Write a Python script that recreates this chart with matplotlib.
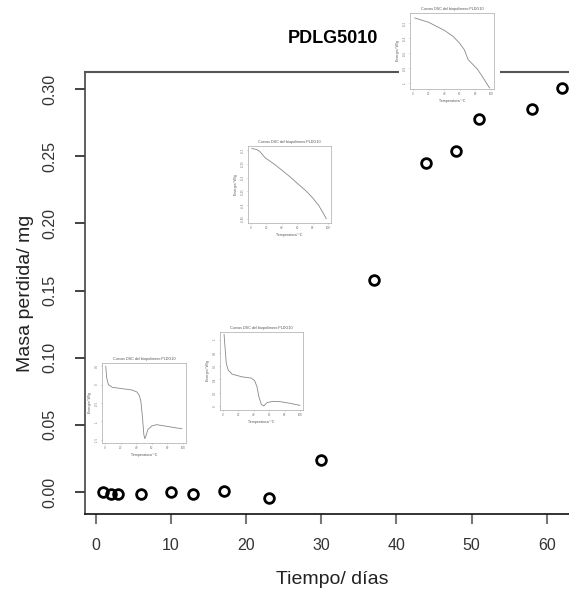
import numpy as np
import matplotlib.pyplot as plt

plt.rcParams['font.family'] = ['Liberation Sans', 'DejaVu Sans']

# mass loss of PDLG5010 over time
dias = [1, 2, 3, 6, 10, 13, 17, 23, 30, 37, 44, 48, 51, 58, 62]
masa = [0.0000, -0.0015, -0.0015, -0.0015, 0.0002, -0.0015, 0.0007, -0.0042,
        0.0240, 0.1580, 0.2450, 0.2536, 0.2777, 0.2853, 0.3005]

x_ticks = [0, 10, 20, 30, 40, 50, 60]
y_ticks = [0.00, 0.05, 0.10, 0.15, 0.20, 0.25, 0.30]

# DSC curves shown as small insets (temperature / heat flow)
dsc1_t = [2.1, 20.0, 40.8, 51.3, 59.6, 65.8, 70.8, 76.3, 82.5, 88.8, 98.3]
dsc1_e = [-0.133, -0.191, -0.302, -0.378, -0.467, -0.556, -0.689, -0.747, -0.813, -0.911, -1.067]
dsc1_yt = [-1.0, -0.8, -0.6, -0.4, -0.2]

dsc2_t = [0.9, 7.4, 11.7, 18.3, 29.1, 40.0, 50.9, 59.6, 70.4, 79.1, 87.8, 94.3, 97.8]
dsc2_e = [-0.194, -0.198, -0.206, -0.228, -0.249, -0.273, -0.298, -0.320, -0.346,
          -0.371, -0.401, -0.432, -0.450]
dsc2_yt = [-0.45, -0.40, -0.35, -0.30, -0.25, -0.20]

dsc3_t = [0.8, 2.1, 4.2, 9.3, 21.9, 34.6, 40.9, 43.9, 46.0, 48.1, 49.8, 51.1, 52.3,
          54.9, 59.9, 66.2, 76.8, 89.5, 98.7]
dsc3_e = [0.5, 0.18, 0.0, -0.073, -0.109, -0.145, -0.2, -0.291, -0.455, -0.909, -1.364,
          -1.473, -1.409, -1.227, -1.127, -1.091, -1.127, -1.173, -1.2]
dsc3_yt = [-1.5, -1.0, -0.5, 0.0, 0.5]

dsc4_t = [1.3, 2.5, 4.2, 6.7, 11.8, 24.4, 37.0, 41.2, 44.1, 46.6, 49.6, 52.9, 57.1,
          64.3, 74.8, 87.4, 100.0]
dsc4_e = [1.08, 0.89, 0.64, 0.54, 0.48, 0.44, 0.42, 0.38, 0.29, 0.14, 0.03, 0.0, 0.05,
          0.07, 0.065, 0.04, 0.01]
dsc4_yt = [0.0, 0.2, 0.4, 0.6, 0.8, 1.0]

W, H = 569, 593
fig = plt.figure(figsize=(W / 100, H / 100), dpi=100)


def px_box(x0, y0, x1, y1):
    return [x0 / W, 1 - y1 / H, (x1 - x0) / W, (y1 - y0) / H]


ax = fig.add_axes(px_box(85, 72, 580, 514))
ax.plot(dias, masa, linestyle='none', marker='o', ms=7, mfc='none', mec='black', mew=2)

# R-style 4% padding
xr = max(dias) - min(dias)
yr = max(masa) - min(masa)
ax.set_xlim(min(dias) - 0.04 * xr, max(dias) + 0.04 * xr)
ax.set_ylim(min(masa) - 0.04 * yr, max(masa) + 0.04 * yr)

ax.set_xticks(x_ticks)
ax.set_yticks(y_ticks)
ax.set_yticklabels(['%.2f' % v for v in y_ticks], rotation=90, va='center')
ax.tick_params(axis='x', length=7, width=1.5, color='#777777', pad=10,
               labelsize=11.5, labelcolor='#333333')
ax.tick_params(axis='y', length=7, width=1.2, color='#222222', pad=13,
               labelsize=11.5, labelcolor='#333333')

ax.spines['right'].set_visible(False)
ax.spines['top'].set_color('#555555')
ax.spines['top'].set_linewidth(1.5)
ax.spines['left'].set_color('#444444')
ax.spines['left'].set_linewidth(1.2)
ax.spines['bottom'].set_color('#111111')
ax.spines['bottom'].set_linewidth(1.2)

ax.set_xlabel('Tiempo/ días', fontsize=14, color='#222222', labelpad=13)
ax.set_ylabel('Masa perdida/ mg', fontsize=14, color='#222222', labelpad=6)
ax.set_title('PDLG5010', fontsize=13, fontweight='bold', pad=21)


def dsc_inset(bg, box, t, e, yt, ylim):
    back = fig.add_axes(px_box(*bg))
    back.set_facecolor('white')
    back.set_xticks([])
    back.set_yticks([])
    for s in back.spines.values():
        s.set_visible(False)

    a = fig.add_axes(px_box(*box))
    a.plot(t, e, color='#888888', lw=0.6)
    a.set_xlim(-4, 104)
    a.set_ylim(*ylim)
    a.set_xticks([0, 20, 40, 60, 80, 100])
    a.set_yticks(yt)
    a.set_yticklabels(['%g' % v for v in yt], rotation=90, va='center')
    a.tick_params(length=1, width=0.4, color='#999999', pad=1.5,
                  labelsize=2.2, labelcolor='#777777')
    for s in a.spines.values():
        s.set_color('#aaaaaa')
        s.set_linewidth(0.5)
    a.set_title('Curvas DSC del biopolimero PLDG10', fontsize=2.7, color='#555555', pad=2)
    a.set_xlabel('Temperatura/ °C', fontsize=2.6, color='#555555', labelpad=1.5)
    a.set_ylabel('Energia/ W/g', fontsize=2.6, color='#555555', labelpad=1.5)


dsc_inset((399, 0, 500, 106), (410, 13, 494, 89), dsc1_t, dsc1_e, dsc1_yt, (-1.08, -0.067))
dsc_inset((237, 132, 337, 240), (248, 146, 331, 223), dsc2_t, dsc2_e, dsc2_yt, (-0.466, -0.185))
dsc_inset((91, 350, 192, 460), (102, 363, 186, 443), dsc3_t, dsc3_e, dsc3_yt, (-1.591, 0.591))
dsc_inset((209, 319, 309, 427), (220, 332, 303, 410), dsc4_t, dsc4_e, dsc4_yt, (-0.06, 1.115))

fig.savefig('out.png', dpi=100)
